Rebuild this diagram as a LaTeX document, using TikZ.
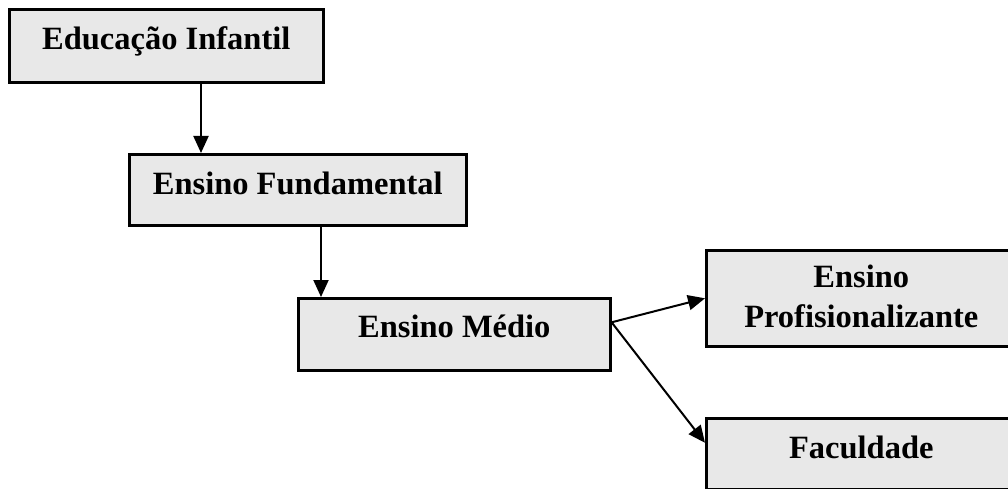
\documentclass[tikz,border=0pt]{standalone}
\usepackage{fontspec}
\setmainfont{Liberation Serif}
\usetikzlibrary{arrows.meta,calc}
\definecolor{boxfill}{RGB}{232,232,232}
\begin{document}
\begin{tikzpicture}[x=1pt,y=-1pt,
  box/.style={draw=black,line width=2.6pt,fill=boxfill,inner sep=0pt,anchor=north west},
  lbl/.style={font=\fontsize{32.5}{40}\selectfont\bfseries,inner sep=0pt,align=center},
  arr/.style={draw=black,line width=2pt,-{Triangle[length=17pt,width=15pt]}}]
\useasboundingbox (0,0) rectangle (1008,489);

% boxes
\node[box,minimum width=314pt,minimum height=73pt] (b1) at (8,8) {};
\node[box,minimum width=337pt,minimum height=71pt] (b2) at (128,153) {};
\node[box,minimum width=312pt,minimum height=72pt] (b3) at (297,297) {};
\node[box,minimum width=310pt,minimum height=96pt] (b4) at (705,249) {};
\node[box,minimum width=310pt,minimum height=71pt] (b5) at (705,417) {};

% labels (base anchor of the two-line label sits on its last line)
\node[lbl,anchor=base] (t1) at ([yshift=-42pt]b1.north) {Educação Infantil};
\node[lbl,anchor=base] (t2) at ([yshift=-41pt]b2.north) {Ensino Fundamental};
\node[lbl,anchor=base] (t3) at ([yshift=-40pt]b3.north) {Ensino Médio};
\node[lbl,anchor=base] (t4) at ([yshift=-78pt]b4.north) {Ensino\\Profisionalizante};
\node[lbl,anchor=base] (t5) at ([yshift=-41pt]b5.north) {Faculdade};

% connectors
\draw[arr] ([xshift=193pt]b1.south west) -- ([xshift=193pt]b1.south west |- b2.north);
\draw[arr] ([xshift=193pt]b2.south west) -- ([xshift=193pt]b2.south west |- b3.north);
\draw[arr] ([yshift=12pt]b3.east) -- (b4.west);
\draw[arr] ([yshift=12pt]b3.east) -- ([yshift=11pt]b5.west);
\end{tikzpicture}
\end{document}
